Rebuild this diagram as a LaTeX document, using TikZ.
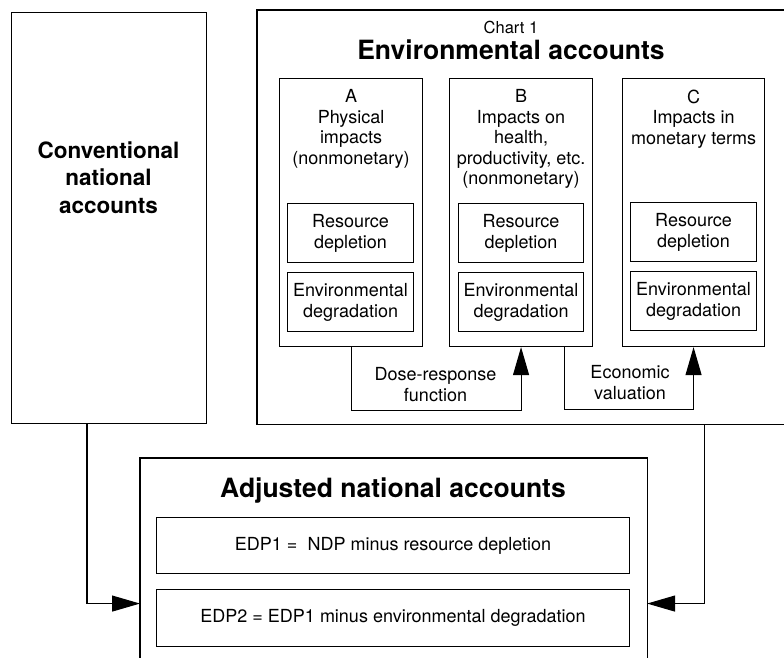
\documentclass[tikz,border=0pt]{standalone}
\usepackage{fontspec}
\setmainfont{TeX Gyre Heros}
\usetikzlibrary{arrows.meta,calc}

\begin{document}
\begin{tikzpicture}[x=1pt, y=-1pt, line width=1.1pt,
  box/.style={draw, inner sep=0pt, anchor=north west},
  frame/.style={inner sep=0pt, anchor=north west},
  lbl/.style={inner sep=0pt, align=center},
  body/.style={font=\fontsize{18}{21}\selectfont},
  head/.style={font=\fontsize{18}{20.5}\selectfont},
  big/.style={font=\bfseries\fontsize{26.5}{30}\selectfont},
  flow/.style={-{Triangle[length=28pt,width=16pt]}}]
\useasboundingbox (0,0) rectangle (784,657);

% conventional accounts
\node[box, minimum width=195pt, minimum height=411pt] (conv) at (11,12) {};
\node[lbl, anchor=north, font=\bfseries\fontsize{22.5}{27.5}\selectfont] (convt) at (108.5,141)
  {Conventional\\national\\accounts};

% environmental accounts frame (open on the right)
\node[frame, minimum width=527pt, minimum height=413pt] (env) at (257,10) {};
\draw (env.north east) -- (env.north west) -- (env.south west) -- (env.south east);
\node[lbl, anchor=base, font=\fontsize{16.5}{20}\selectfont] (chart) at (511,33) {Chart 1};
\node[lbl, anchor=base, big] (envt) at (511,59) {Environmental accounts};

% columns A, B, C
\node[box, minimum width=143pt, minimum height=268pt] (colA) at (279,78) {};
\node[box, minimum width=143pt, minimum height=268pt] (colB) at (449,78) {};
\node[box, minimum width=142pt, minimum height=268pt] (colC) at (622,78) {};

\node[lbl, head, anchor=north] (hA) at (colA.north |- 0,89)
  {A\\Physical\\impacts\\(nonmonetary)};
\node[lbl, head, anchor=north] (hB) at (colB.north |- 0,89)
  {B\\Impacts on\\health,\\productivity, etc.\\(nonmonetary)};
\node[lbl, head, anchor=north] (hC) at (colC.north |- 0,89)
  {C\\Impacts in\\monetary terms};

% resource depletion / environmental degradation
\node[box, lbl, body, minimum width=126pt, minimum height=59pt] (rA) at (287,203) {Resource\\depletion};
\node[box, lbl, body, minimum width=126pt, minimum height=59pt] (dA) at (287,272) {Environmental\\degradation};
\node[box, lbl, body, minimum width=125pt, minimum height=59pt] (rB) at (458,203) {Resource\\depletion};
\node[box, lbl, body, minimum width=125pt, minimum height=59pt] (dB) at (458,272) {Environmental\\degradation};
\node[box, lbl, body, minimum width=126pt, minimum height=59pt] (rC) at (630,202) {Resource\\depletion};
\node[box, lbl, body, minimum width=126pt, minimum height=59pt] (dC) at (630,271) {Environmental\\degradation};

% links between columns
\draw[flow] (colA.south) -- ++(0,63) -| (colB.south);
\node[lbl, body, anchor=north] (dose) at (435.5,367) {Dose-response\\function};
\draw[flow] ($(colB.south east)+(-29,0)$) -- ++(0,62) -| (colC.south);
\node[lbl, body, anchor=north] (econ) at (630,365) {Economic\\valuation};

% adjusted national accounts (runs past the lower edge)
\node[frame, minimum width=506pt, minimum height=290pt] (adj) at (140,458) {};
\draw (adj.south west) -- (adj.north west) -- (adj.north east) -- (adj.south east);
\node[lbl, anchor=base, big] (adjt) at (393,497) {Adjusted national accounts};
\node[box, lbl, body, minimum width=473pt, minimum height=56pt] (edp1) at (156,517)
  {EDP1 =\ \ NDP minus resource depletion};
\node[box, lbl, body, minimum width=473pt, minimum height=57pt] (edp2) at (156,589)
  {EDP2 = EDP1 minus environmental degradation};

% feeds into the adjusted accounts
\draw[flow] ($(conv.south west)+(76,0)$) |- (adj.west);
\draw[flow] ($(env.south east)+(-81,0)$) |- (adj.east);
\end{tikzpicture}
\end{document}
